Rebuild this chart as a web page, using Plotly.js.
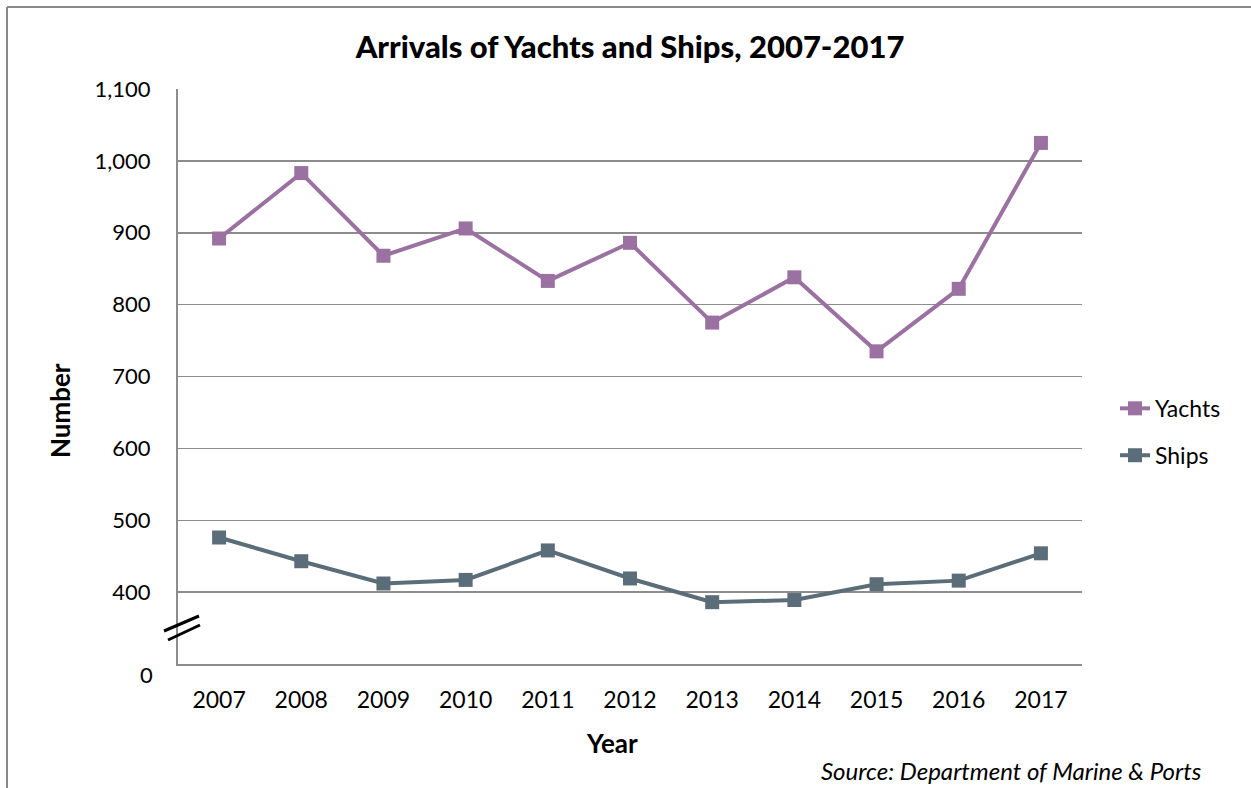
<!DOCTYPE html>
<html>
<head>
<meta charset="utf-8">
<script src="https://cdn.plot.ly/plotly-3.0.1.min.js"></script>
<style>
html,body{margin:0;padding:0;background:#fff;}
#chart{width:1251px;height:788px;}
</style>
</head>
<body>
<div id="chart"></div>
<script>
const years = ["2007","2008","2009","2010","2011","2012","2013","2014","2015","2016","2017"];
const yachts = [892, 983, 868, 906, 833, 886, 775, 838, 735, 822, 1025];
const ships = [476, 443, 412, 417, 458, 419, 386, 389, 411, 416, 454];
const yTickVals = [400, 500, 600, 700, 800, 900, 1000, 1100];
const yTickText = ["400", "500", "600", "700", "800", "900", "1,000", "1,100"];

const FONT = "Lato, 'Open Sans', sans-serif";
const yachtColor = "#9a71a1";
const shipColor = "#5c6d7a";
const gridColor = "#8c8c8c";

const traces = [
  {x: years, y: yachts, name: "Yachts", legendgroup: "a", type: "scatter", mode: "lines+markers",
   line: {color: yachtColor, width: 4}, marker: {symbol: "square", size: 14, color: yachtColor}},
  {x: years, y: ships, name: "Ships", legendgroup: "b", type: "scatter", mode: "lines+markers",
   line: {color: shipColor, width: 4}, marker: {symbol: "square", size: 14, color: shipColor}}
];

const L = 178, T = 89, W = 904, H = 575;
function px(x){ return (x - L) / W; }
function py(y){ return 1 - (y - T) / H; }

const layout = {
  width: 1251, height: 788,
  margin: {l: L, r: 1251 - L - W, t: T, b: 788 - T - H},
  paper_bgcolor: "#fff", plot_bgcolor: "#fff",
  font: {family: FONT, color: "#000", size: 22},
  title: {text: "Arrivals of Yachts and Ships, 2007-2017", font: {family: FONT, size: 31, weight: 900, color: "#000"},
          x: 0.5, xref: "paper", xanchor: "center", y: 1 - 47/788, yanchor: "middle"},
  xaxis: {type: "category", range: [-0.5, 10.5], showgrid: false, showline: true, linecolor: gridColor, linewidth: 2,
          ticks: "", ticklabelstandoff: 14, tickfont: {size: 23, family: FONT}, zeroline: false, fixedrange: true},
  yaxis: {range: [300, 1100], tickvals: yTickVals, ticktext: yTickText, showgrid: true, gridcolor: gridColor, gridwidth: 1.5,
          showline: true, linecolor: gridColor, linewidth: 2, ticks: "", ticklabelstandoff: 21,
          tickfont: {size: 22, family: FONT}, zeroline: false, fixedrange: true},
  legend: {x: px(1115), y: py(407) + 0.035, xanchor: "left", yanchor: "top", font: {size: 23, family: FONT},
           tracegroupgap: 14, bgcolor: "rgba(0,0,0,0)"},
  showlegend: true,
  annotations: [
    {text: "0", xref: "paper", yref: "y", x: px(155), y: 300, xanchor: "right", yanchor: "middle", yshift: -10,
     showarrow: false, font: {size: 22, family: FONT}},
    {text: "<b>Number</b>", xref: "paper", yref: "paper", x: px(60), y: py(410), xanchor: "center", yanchor: "middle",
     textangle: -90, showarrow: false, font: {size: 26, family: FONT}},
    {text: "<b>Year</b>", xref: "paper", yref: "paper", x: px(612), y: py(743), xanchor: "center", yanchor: "middle",
     showarrow: false, font: {size: 26, family: FONT}},
    {text: "<i>Source: Department of Marine &amp; Ports</i>", xref: "paper", yref: "paper", x: px(1204), y: py(770),
     xanchor: "right", yanchor: "middle", showarrow: false, font: {size: 24, family: FONT}}
  ],
  shapes: [
    {type: "line", xref: "paper", yref: "paper", x0: px(164), y0: py(631), x1: px(199), y1: py(616), line: {color: "#000", width: 3}},
    {type: "line", xref: "paper", yref: "paper", x0: px(168), y0: py(640), x1: px(200), y1: py(625), line: {color: "#000", width: 3}},
    {type: "line", xref: "paper", yref: "paper", x0: px(7), y0: py(7), x1: px(1251), y1: py(7), line: {color: "#8a8a8a", width: 2}},
    {type: "line", xref: "paper", yref: "paper", x0: px(7), y0: py(7), x1: px(7), y1: py(788), line: {color: "#8a8a8a", width: 2}}
  ]
};

Plotly.newPlot("chart", traces, layout, {displayModeBar: false, staticPlot: true});
</script>
</body>
</html>
